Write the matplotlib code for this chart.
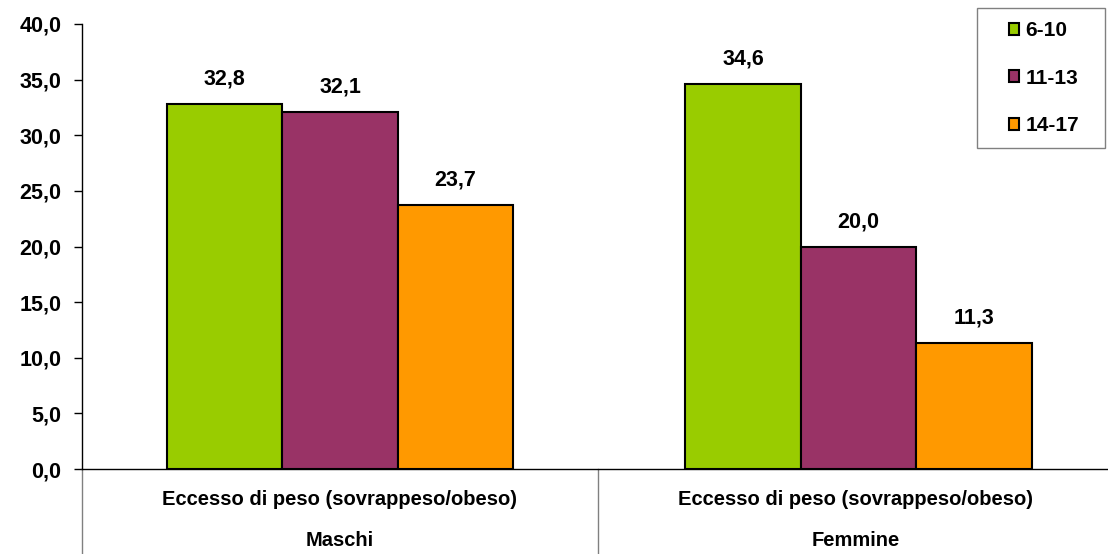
import matplotlib.pyplot as plt
import matplotlib.patches as mpatches
import numpy as np

plt.rcParams['font.family'] = ['Liberation Sans', 'DejaVu Sans']
plt.rcParams['font.weight'] = 'bold'

groups = ['Maschi', 'Femmine']
subcategory = 'Eccesso di peso (sovrappeso/obeso)'
age_bands = ['6-10', '11-13', '14-17']
values = {
    '6-10': [32.8, 34.6],
    '11-13': [32.1, 20.0],
    '14-17': [23.7, 11.3],
}
colors = ['#99cc00', '#993366', '#ff9900']
yticks = np.arange(0, 45, 5)

fig = plt.figure(figsize=(11.08, 5.54), dpi=100)
ax = fig.add_axes([0.074, 0.1534, 0.9314, 0.8033])

x = np.array([0.5, 1.505])
width = 0.224
for i, (band, col) in enumerate(zip(age_bands, colors)):
    pos = x + (i - 1) * width
    bars = ax.bar(pos, values[band], width, color=col, edgecolor='black',
                  linewidth=1.5, label=band, zorder=3)
    for b, v in zip(bars, values[band]):
        ax.text(b.get_x() + b.get_width() / 2, v + 1.75,
                f'{v:.1f}'.replace('.', ','), ha='center', va='baseline',
                fontsize=15.5, fontweight='bold')

ax.set_xlim(0, 2)
ax.set_ylim(0, 40)
ax.set_yticks(yticks)
ax.set_yticklabels([f'{t:.1f}'.replace('.', ',') for t in yticks],
                   fontsize=15.5, fontweight='bold')
ax.tick_params(axis='y', length=6, width=1, pad=9)
ax.set_xticks([])
ax.spines['top'].set_visible(False)
ax.spines['right'].set_visible(False)
ax.spines['left'].set_linewidth(1)
ax.spines['bottom'].set_linewidth(1)

# two-level category labels with separators under the axis
for xi, g in zip([0.5, 1.5], groups):
    ax.text(xi, -2.75, subcategory, ha='center', va='center',
            fontsize=14.5, fontweight='bold', clip_on=False)
    ax.text(xi, -6.45, g, ha='center', va='center',
            fontsize=14.5, fontweight='bold', clip_on=False)
for sx in [0, 1, 2]:
    ax.plot([sx, sx], [0, -8], color='#808080', linewidth=1, clip_on=False)

# legend frame drawn separately so the side padding can be wider
frame = mpatches.Rectangle((977 / 1108, 1 - 148 / 554), 128 / 1108, 140 / 554,
                           transform=fig.transFigure, facecolor='white',
                           edgecolor='#808080', linewidth=1, zorder=5,
                           clip_on=False)
ax.add_patch(frame)
leg = ax.legend(loc='upper left', bbox_to_anchor=(1009 / 1108, 1 - 21 / 554),
                bbox_transform=fig.transFigure, fontsize=15, frameon=False,
                handlelength=0.5, handleheight=0.5, handletextpad=0.3,
                labelspacing=1.37, borderpad=0, borderaxespad=0)
leg.set_zorder(6)
for t in leg.get_texts():
    t.set_fontweight('bold')

fig.savefig('out.png', dpi=100)
